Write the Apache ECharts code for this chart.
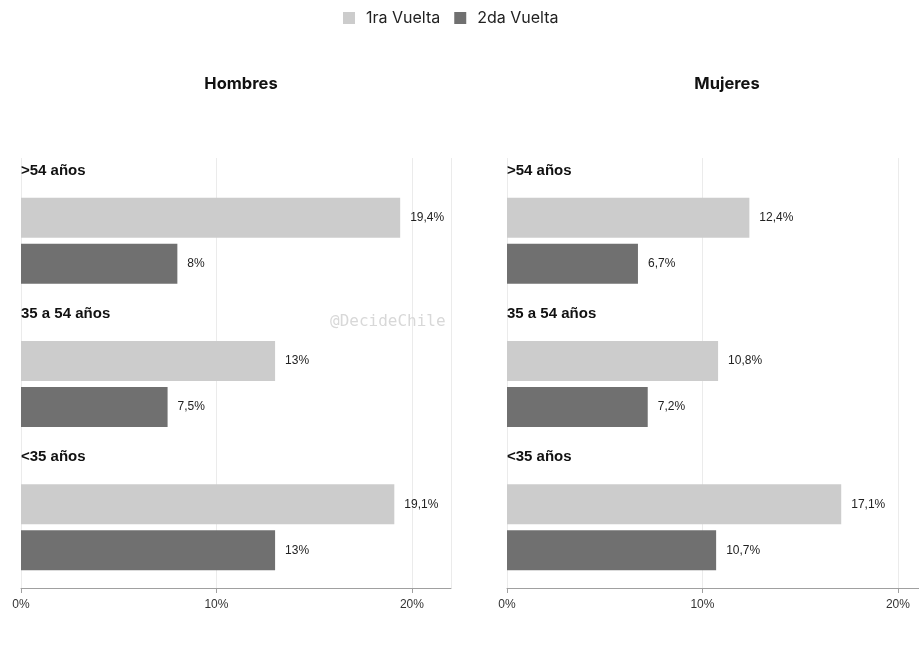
<!DOCTYPE html>
<html>
<head>
<meta charset="utf-8">
<script src="https://cdn.jsdelivr.net/npm/echarts@6/dist/echarts.min.js"></script>
<style>html,body{margin:0;padding:0;background:#fff}#c{width:919px;height:648px}</style>
</head>
<body>
<div id="c"></div>
<script>
var categories = ['>54 años', '35 a 54 años', '<35 años'];
var panels = ['Hombres', 'Mujeres'];
var seriesNames = ['1ra Vuelta', '2da Vuelta'];
var hombres1ra = [19.4, 13, 19.1];
var hombres2da = [8, 7.5, 13];
var mujeres1ra = [12.4, 10.8, 17.1];
var mujeres2da = [6.7, 7.2, 10.7];
var xTicks = [0, 10, 20];

var colors = ['#cccccc', '#707070'];
var data = [[hombres1ra, hombres2da], [mujeres1ra, mujeres2da]];
var lefts = [21, 507];
var FULLW = 430, FULLMAX = 22;

function fmt(v) { return String(v).replace('.', ',') + '%'; }

var grids = [], xAxes = [], yAxes = [], series = [], titles = [];
lefts.forEach(function (l, i) {
  // the right panel runs past the canvas edge: keep the same scale, clip the range
  var w = Math.min(FULLW, 919 - l);
  var xmax = FULLMAX * w / FULLW;
  grids.push({ left: l, top: 158, width: w, height: 430 });
  grids.push({ left: l, top: 169, width: w, height: 430 });
  var ga = i * 2, gb = i * 2 + 1;
  xAxes.push({
    gridIndex: ga, type: 'value', min: 0, max: xmax, interval: 10,
    axisLine: { show: true, lineStyle: { color: '#a0a0a0', width: 1 } },
    axisTick: { show: true, length: 5, lineStyle: { color: '#a0a0a0' } },
    splitLine: { show: true, lineStyle: { color: '#ebebeb', width: 1 } },
    axisLabel: {
      margin: 11, color: '#333', fontSize: 12, fontFamily: 'Liberation Sans',
      formatter: function (v) { return xTicks.indexOf(v) >= 0 ? v + '%' : ''; },
      showMaxLabel: false
    }
  });
  xAxes.push({ gridIndex: gb, type: 'value', min: 0, max: xmax, show: false });
  yAxes.push({ gridIndex: ga, type: 'value', show: false });
  yAxes.push({
    gridIndex: gb, type: 'category', data: categories, inverse: true,
    axisLine: { show: false }, axisTick: { show: false }, splitLine: { show: false },
    axisLabel: {
      inside: true, margin: 0, align: 'left', verticalAlign: 'middle', interval: 0,
      hideOverlap: false,
      formatter: function (v) { return '{t|' + v + '}\n{s|}'; },
      rich: {
        t: { color: '#111', fontSize: 15, fontWeight: 'bold', fontFamily: 'Liberation Sans', height: 18, lineHeight: 18 },
        s: { height: 140, lineHeight: 140 }
      }
    }
  });
  data[i].forEach(function (vals, k) {
    series.push({
      type: 'bar', name: seriesNames[k], xAxisIndex: gb, yAxisIndex: gb,
      data: vals, barWidth: 40, barGap: '15%',
      itemStyle: { color: colors[k] },
      label: {
        show: true, position: 'right', distance: 10, color: '#222',
        fontSize: 12, fontFamily: 'Liberation Sans',
        formatter: function (p) { return fmt(p.value); }
      },
      emphasis: { disabled: true }, silent: true
    });
  });
  titles.push({
    text: panels[i], left: l + FULLW / 2, top: 71, textAlign: 'center',
    textStyle: { fontSize: 16.5, fontWeight: 'bold', color: '#111', fontFamily: 'Inter' }
  });
});

var chart = echarts.init(document.getElementById('c'), null, { renderer: 'canvas' });
chart.setOption({
  animation: false,
  backgroundColor: '#fff',
  title: titles,
  legend: {
    data: seriesNames, top: 5, left: 338, icon: 'rect',
    itemWidth: 12, itemHeight: 12, itemGap: 14,
    textStyle: { fontSize: 16, color: '#222', fontFamily: 'Inter', padding: [0, 0, 0, 6] }
  },
  grid: grids, xAxis: xAxes, yAxis: yAxes, series: series,
  graphic: [{
    type: 'text', left: 330, top: 314, z: 100,
    style: { text: '@DecideChile', fill: '#d8d8d8', fontSize: 16, fontFamily: 'DejaVu Sans Mono' }
  }]
});
</script>
</body>
</html>
